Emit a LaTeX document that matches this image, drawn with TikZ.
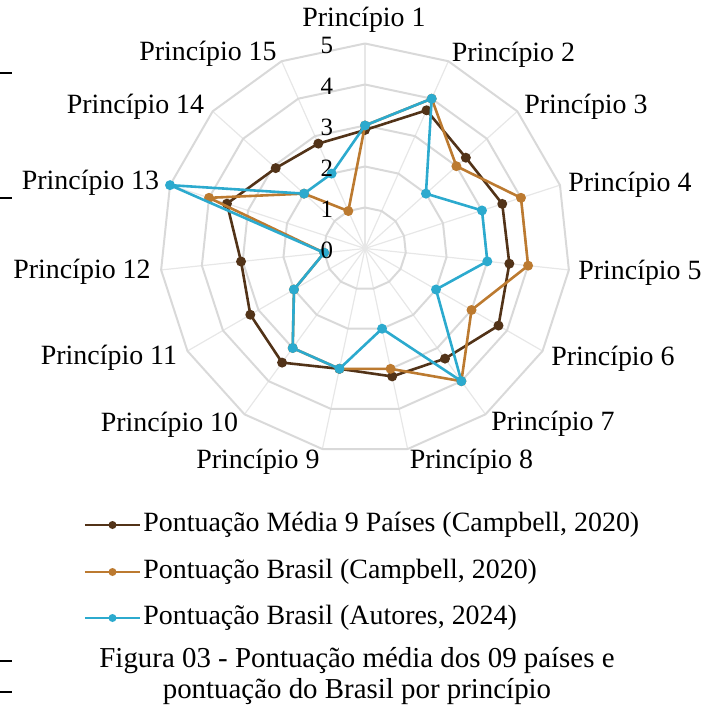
\documentclass[tikz,border=0pt]{standalone}
\usepackage{fontspec}
\setmainfont{Liberation Serif}
\usepackage{tikz}
\usetikzlibrary{positioning}

\definecolor{mediaC}{RGB}{82,51,24}
\definecolor{brasilC}{RGB}{188,122,48}
\definecolor{autorC}{RGB}{44,170,206}
\definecolor{ringC}{RGB}{217,217,217}
\definecolor{spokeC}{RGB}{231,231,231}

\begin{document}
\begin{tikzpicture}[x=0.5bp,y=0.5bp,
  ring/.style={draw=ringC, line width=1bp, line join=round},
  spoke/.style={draw=spokeC, line width=0.6bp},
  tick/.style={anchor=east, inner sep=0pt, font=\fontsize{12.5}{14}\selectfont},
  axlabel/.style={inner sep=0pt, font=\fontsize{14}{16}\selectfont},
  serie/.style={line width=1.3bp, line join=round},
  legtext/.style={anchor=west, inner sep=0pt, font=\fontsize{14}{16}\selectfont}]
  % Fix the canvas
  \useasboundingbox (-365,-456.5) rectangle (350,248.5);

  % Draw the spokes
  \foreach \k in {0,...,14}
    \draw[spoke] (0,0) -- ({90-24*\k}:205);

  % Draw the rings
  \foreach \r in {1,...,5}
    \draw[ring] (90:{41*\r}) \foreach \k in {1,...,14}{ -- ({90-24*\k}:{41*\r})} -- cycle;

  % Label the axes
  \foreach \k/\x/\y in {1/-1/228.5, 2/148.5/193.5, 3/221/141.5, 4/265/63.5,
      5/275/-24.5, 6/248/-110.5, 7/188/-175.5, 8/106.5/-213.5, 9/-107/-213.5,
      10/-195.5/-176.5, 11/-256/-109.5, 12/-283/-23.5, 13/-274.5/65.5,
      14/-229.5/141.5, 15/-157/194.5}
    \node[axlabel] (p\k) at (\x,\y) {Princípio \k};

  % Define the data points
  \foreach \v [count=\k from 0] in {2.89,3.69,3.31,3.52,3.54,3.76,3.32,3.19,3.0,3.44,3.23,3.04,3.54,2.93,2.8}
    \coordinate (m\k) at ({90-24*\k}:{41*\v});
  \foreach \v [count=\k from 0] in {3,4,3,4,4,3,4,3,3,3,2,1,4,2,1}
    \coordinate (b\k) at ({90-24*\k}:{41*\v});
  \foreach \v [count=\k from 0] in {3,4,2,3,3,2,4,2,3,3,2,1,5,2,2}
    \coordinate (a\k) at ({90-24*\k}:{41*\v});

  % Draw the series
  \draw[serie, mediaC] (m0) \foreach \k in {1,...,14}{ -- (m\k)} -- cycle;
  \foreach \k in {0,...,14} \fill[mediaC] (m\k) circle (5);
  \draw[serie, brasilC] (b0) \foreach \k in {1,...,14}{ -- (b\k)} -- cycle;
  \foreach \k in {0,...,14} \fill[brasilC] (b\k) circle (5);
  \draw[serie, autorC] (a0) \foreach \k in {1,...,14}{ -- (a\k)} -- cycle;
  \foreach \k in {0,...,14} \fill[autorC] (a\k) circle (5);

  % Tick labels
  \foreach \r in {0,...,5}
    \node[tick] (t\r) at (-31.5,{41*\r-2}) {\r};

  % Legend
  \coordinate (l1a) at (-280,-276.5);
  \coordinate (l1m) at (-252.5,-276.5);
  \coordinate (l1b) at (-225,-276.5);
  \draw[serie, mediaC] (l1a) -- (l1b);
  \fill[mediaC] (l1m) circle (4);
  \node[legtext, right=1.5bp of l1b] (leg1) {Pontuação Média 9 Países (Campbell, 2020)};

  \coordinate (l2a) at (-280,-323.5);
  \coordinate (l2m) at (-252.5,-323.5);
  \coordinate (l2b) at (-225,-323.5);
  \draw[serie, brasilC] (l2a) -- (l2b);
  \fill[brasilC] (l2m) circle (4);
  \node[legtext, right=1.5bp of l2b] (leg2) {Pontuação Brasil (Campbell, 2020)};

  \coordinate (l3a) at (-280,-369.5);
  \coordinate (l3m) at (-252.5,-369.5);
  \coordinate (l3b) at (-225,-369.5);
  \draw[serie, autorC] (l3a) -- (l3b);
  \fill[autorC] (l3m) circle (4);
  \node[legtext, right=1.5bp of l3b] (leg3) {Pontuação Brasil (Autores, 2024)};

  % Caption
  \node[font=\fontsize{14.5}{16}\selectfont, align=center, inner sep=0pt] (fig) at (-8,-427.5)
    {Figura 03 - Pontuação média dos 09 países e\\pontuação do Brasil por princípio};

  % Stray rules on the left
  \foreach \y in {175.5,50.5,-412.5,-443.5}
    \draw[black, line width=0.75bp] (-365,\y) -- ++(12,0);
\end{tikzpicture}
\end{document}
